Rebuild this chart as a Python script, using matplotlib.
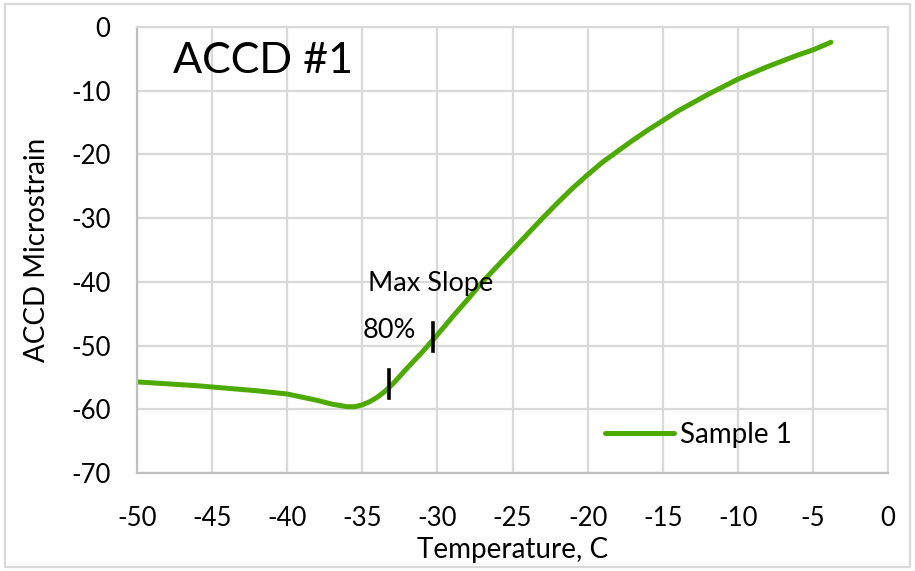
import matplotlib
matplotlib.use("Agg")
import matplotlib.pyplot as plt
from matplotlib.patches import Rectangle

plt.rcParams['font.family'] = ['Lato', 'DejaVu Sans']

# ACCD #1 cooling curve, sample 1
temp = [-50, -48, -46, -44, -42, -40, -38, -37, -36, -35.5, -35, -34.5, -34, -33.5,
        -33, -32, -31, -30, -29, -28, -27, -26, -25, -24, -23, -22, -21, -20, -19,
        -18, -17, -16, -15, -14, -13, -12, -11, -10, -9, -8, -7, -6, -5, -4.5, -3.8]
strain = [-55.7, -56.0, -56.3, -56.7, -57.1, -57.6, -58.6, -59.2, -59.6, -59.6, -59.3,
          -58.8, -58.1, -57.2, -56.1, -53.5, -51.0, -48.3, -45.5, -42.8, -40.0, -37.5,
          -35.0, -32.5, -30.0, -27.6, -25.3, -23.2, -21.2, -19.5, -17.8, -16.2, -14.7,
          -13.2, -11.9, -10.6, -9.4, -8.2, -7.2, -6.2, -5.3, -4.4, -3.6, -3.1, -2.4]

# tick marks for 80% point and max slope point
mark_names = ["80%", "Max Slope"]
mark_x = [-33.2, -30.3]
mark_y = [-56.0, -48.7]

xticks = list(range(-50, 1, 5))
yticks = list(range(-70, 1, 10))

green = '#4DAA00'
grid = '#D9D9D9'

fig = plt.figure(figsize=(9.15, 5.71), dpi=100)
ax = fig.add_axes([137/915, 1 - 473/571, 751/915, 446/571])

ax.plot(temp, strain, color=green, lw=3.6, solid_capstyle='round', label='Sample 1')

for mx, my in zip(mark_x, mark_y):
    ax.plot([mx, mx], [my - 2.2, my + 2.2], color='black', lw=2.6, zorder=4)

ax.text(-34.95, -47.6, mark_names[0], fontsize=19.5, va='center', ha='left')
ax.text(-34.6, -40.2, mark_names[1], fontsize=19.5, va='center', ha='left')
ax.text(-47.6, -5.3, "ACCD #1", fontsize=31, va='center', ha='left')

ax.set_xlim(-50, 0)
ax.set_ylim(-70, 0)
ax.set_xticks(xticks)
ax.set_yticks(yticks)
ax.set_xticklabels([str(t) for t in xticks])
ax.set_yticklabels([str(t) for t in yticks])
ax.tick_params(length=0, labelsize=18.5)
ax.tick_params(axis='x', pad=24)
ax.tick_params(axis='y', pad=19)
ax.grid(True, color=grid, lw=1.6)
ax.set_axisbelow(True)
for side in ['top', 'right']:
    ax.spines[side].set_color(grid)
    ax.spines[side].set_linewidth(1.6)
for side in ['left', 'bottom']:
    ax.spines[side].set_color('#BFBFBF')
    ax.spines[side].set_linewidth(1.6)

ax.set_xlabel("Temperature, C", fontsize=20, labelpad=4)
ax.set_ylabel("ACCD Microstrain", fontsize=20, labelpad=15)

leg = ax.legend(loc='lower right', bbox_to_anchor=(0.905, 0.0), frameon=False,
                fontsize=20, handlelength=2.5, handletextpad=0.2)

# chart border
fig.patches.append(Rectangle((5/915, 4/571), 905/915, 563/571, transform=fig.transFigure,
                             fill=False, edgecolor=grid, lw=1.6))

fig.savefig("out.png", dpi=100)
